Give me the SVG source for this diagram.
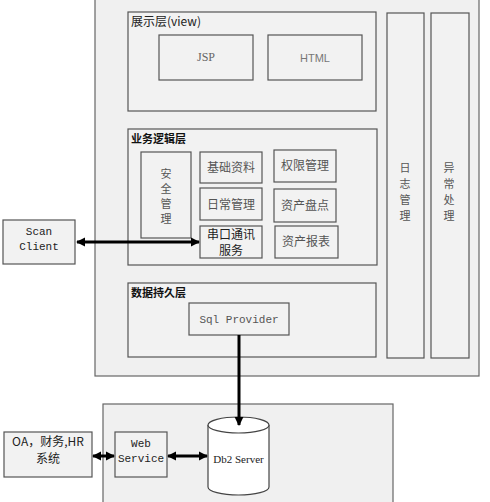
<svg xmlns="http://www.w3.org/2000/svg" width="490" height="502" viewBox="0 0 490 502">
<style>
.box{fill:#f2f2f2;stroke:#555;stroke-width:1.2}
.bg{fill:#f0f0f0;stroke:#666;stroke-width:1.2}
.cn{font-family:"Noto Sans CJK SC",sans-serif;font-size:12px;fill:#222}
.cng{font-family:"Noto Sans CJK SC",sans-serif;font-size:12px;fill:#555}
.vt{font-family:"Noto Sans CJK SC",sans-serif;font-size:11px;fill:#555}
.mono{font-family:"Liberation Mono",monospace;font-size:11px;fill:#222}
.monog{font-family:"Liberation Mono",monospace;font-size:11px;fill:#555}
.title{font-family:"Noto Sans CJK SC",sans-serif;font-size:11px;font-weight:bold;fill:#111}
.conn{stroke:#000;stroke-width:3;fill:none}
</style>
<defs>
<marker id="ah" viewBox="0 0 10 10" refX="9" refY="5" markerWidth="9" markerHeight="10" markerUnits="userSpaceOnUse" orient="auto-start-reverse">
<path d="M0,0 L10,5 L0,10 z" fill="#000"/>
</marker>
</defs>
<rect width="490" height="502" fill="#fff"/>
<g id="app-server"><rect class="bg" x="95" y="-5" width="384" height="381"/></g>
<g id="bottom-server"><rect class="bg" x="103" y="404" width="290" height="105"/></g>
<g id="view-layer">
<rect class="box" x="128" y="12" width="248" height="99"/>
<text class="cn" x="131" y="26" font-size="11">展示层(view)</text>
</g>
<g id="jsp"><rect class="box" x="159" y="35" width="94" height="45"/>
<text x="206" y="61" text-anchor="middle" font-family="Liberation Serif,serif" font-size="12" fill="#666">JSP</text></g>
<g id="html"><rect class="box" x="268" y="35" width="94" height="45"/>
<text x="315" y="62" text-anchor="middle" font-family="Liberation Sans,sans-serif" font-size="11" fill="#777">HTML</text></g>
<g id="log"><rect class="box" x="387" y="13" width="37" height="345"/>
<text class="vt" x="405" text-anchor="middle"><tspan x="405" y="172">日</tspan><tspan x="405" y="188">志</tspan><tspan x="405" y="204">管</tspan><tspan x="405" y="220">理</tspan></text></g>
<g id="exception"><rect class="box" x="431" y="13" width="38" height="345"/>
<text class="vt" x="449" text-anchor="middle"><tspan x="449" y="172">异</tspan><tspan x="449" y="188">常</tspan><tspan x="449" y="204">处</tspan><tspan x="449" y="220">理</tspan></text></g>
<g id="biz-layer"><rect class="box" x="128" y="129" width="249" height="136"/>
<text class="title" x="131" y="143">业务逻辑层</text></g>
<g id="security"><rect class="box" x="141" y="152" width="50" height="86"/>
<text class="vt" x="166" text-anchor="middle"><tspan x="166" y="178">安</tspan><tspan x="166" y="193">全</tspan><tspan x="166" y="208">管</tspan><tspan x="166" y="223">理</tspan></text></g>
<g id="basic"><rect class="box" x="200" y="152" width="62" height="31"/><text class="cng" x="231" y="172" text-anchor="middle">基础资料</text></g>
<g id="perm"><rect class="box" x="274" y="150" width="62" height="32"/><text class="cng" x="305" y="170" text-anchor="middle">权限管理</text></g>
<g id="daily"><rect class="box" x="200" y="188" width="62" height="32"/><text class="cng" x="231" y="209" text-anchor="middle">日常管理</text></g>
<g id="inventory"><rect class="box" x="274" y="189" width="62" height="33"/><text class="cng" x="305" y="210" text-anchor="middle">资产盘点</text></g>
<g id="serial"><rect class="box" x="200" y="226" width="62" height="32"/>
<text class="cn" text-anchor="middle" font-size="11"><tspan x="231" y="239">串口通讯</tspan><tspan x="231" y="255">服务</tspan></text></g>
<g id="report"><rect class="box" x="275" y="226" width="63" height="32"/><text class="cng" x="306" y="246" text-anchor="middle">资产报表</text></g>
<g id="data-layer"><rect class="box" x="128" y="283" width="248" height="74"/>
<text class="title" x="131" y="297">数据持久层</text></g>
<g id="sql"><rect class="box" x="189" y="303" width="100" height="32"/>
<text class="monog" x="239" y="323" text-anchor="middle">Sql Provider</text></g>
<g id="scan"><rect class="box" x="3" y="220" width="72" height="44"/>
<text class="mono" text-anchor="middle"><tspan x="39" y="235">Scan</tspan><tspan x="39" y="250">Client</tspan></text></g>
<g id="oa"><rect class="box" x="4" y="432" width="88" height="45"/>
<text class="cn" text-anchor="middle" font-size="10.5"><tspan x="48" y="446">OA，财务,HR</tspan><tspan x="48" y="463">系统</tspan></text></g>
<g id="web"><rect class="box" x="115" y="432" width="52" height="45"/>
<text class="mono" text-anchor="middle"><tspan x="141" y="447">Web</tspan><tspan x="141" y="462">Service</tspan></text></g>
<g id="db2">
<path d="M208,425 L208,487 A30.5,8 0 0 0 269,487 L269,425" fill="#fff" stroke="#444" stroke-width="1.2"/>
<ellipse cx="238.5" cy="425" rx="30.5" ry="8" fill="#fff" stroke="#444" stroke-width="1.2"/>
<text x="238.5" y="463" text-anchor="middle" font-family="Liberation Serif,serif" font-size="11" fill="#222">Db2 Server</text>
</g>
<g id="connectors">
<line class="conn" x1="77" y1="242" x2="199" y2="242" marker-start="url(#ah)" marker-end="url(#ah)"/>
<line class="conn" x1="239" y1="335" x2="239" y2="425" marker-end="url(#ah)"/>
<line class="conn" x1="93" y1="456" x2="114" y2="456" marker-start="url(#ah)" marker-end="url(#ah)"/>
<line class="conn" x1="168" y1="456" x2="207" y2="456" marker-start="url(#ah)" marker-end="url(#ah)"/>
</g>
</svg>
